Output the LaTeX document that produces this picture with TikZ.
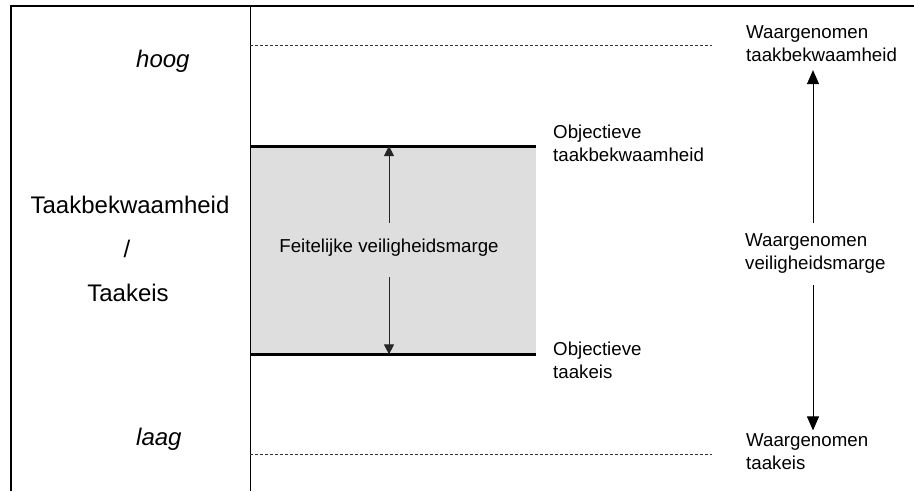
\documentclass[tikz,border=0pt]{standalone}
\usepackage{fontspec}
\setmainfont{Liberation Sans}
\usetikzlibrary{arrows.meta}
\begin{document}
\begin{tikzpicture}[x=1pt,y=-1pt,
  small/.style={font=\fontsize{18.7}{23}\selectfont, inner sep=0pt, align=left},
  big/.style={font=\fontsize{24}{28}\selectfont, inner sep=0pt},
  frame/.style={line width=2.4pt},
  axisline/.style={line width=1pt},
  level/.style={line width=0.8pt, dash pattern=on 3pt off 2pt, black!80},
  bound/.style={line width=3pt},
  arrsmall/.style={-{Triangle[length=10pt,width=10pt]}, line width=0.9pt, black!85},
  arrbig/.style={-{Triangle[length=14pt,width=12pt]}, line width=1pt},
]
\useasboundingbox (0,0) rectangle (914,491);

% outer frame (top and left edges) and the vertical scale axis
\draw[frame] (11,491) -- (11,6) -- (914,6);
\coordinate (axtop) at (250,6);
\coordinate (axbot) at (250,491);
\draw[axisline] (axtop) -- (axbot);

% high / low perceived levels
\coordinate (hiA) at (250,45.5);
\coordinate (hiB) at (712,45.5);
\coordinate (loA) at (250,454.5);
\coordinate (loB) at (712,454.5);
\draw[level] (hiA) -- (hiB);
\draw[level] (loA) -- (loB);

% actual safety margin band
\node[fill=black!13, draw=none, inner sep=0pt, minimum width=285pt, minimum height=208pt,
      anchor=north west] (band) at (250.5,146) {};
\draw[bound] (band.north west) -- (band.north east);
\draw[bound] (band.south west) -- (band.south east);

% axis labels
\node[big, anchor=base west] (hoog) at (136,67) {\textit{hoog}};
\node[big, anchor=base west] (laag) at (136,445) {\textit{laag}};
\node[big, anchor=base] (tb) at (130,213) {Taakbekwaamheid};
\node[big, anchor=base] (sl) at (127,257) {/};
\node[big, anchor=base] (te) at (128,301) {Taakeis};

% margin inside the band
\node[small] (fv) at (389,247.4) {\strut Feitelijke veiligheidsmarge};
\draw[arrsmall, shorten <=13pt] (fv.north) -- (fv.north |- band.north);
\draw[arrsmall, shorten <=18pt] (fv.south) -- (fv.south |- band.south);

% objective levels
\node[small, anchor=west] (ot) at (553,144.9) {\strut Objectieve\\\strut taakbekwaamheid};
\node[small, anchor=west] (oe) at (553,361.9) {\strut Objectieve\\\strut taakeis};

% perceived levels and margin
\coordinate (rx) at (813,0);
\node[small, anchor=west] (wt) at (746,44.9) {\strut Waargenomen\\\strut taakbekwaamheid};
\node[small, anchor=west] (vm) at (745,252.9) {\strut Waargenomen\\\strut veiligheidsmarge};
\node[small, anchor=west] (wte) at (746,453.6) {\strut Waargenomen\\\strut taakeis};
\draw[arrbig, shorten <=7pt, shorten >=2pt] (vm.north -| rx) -- (wt.south -| rx);
\draw[arrbig, shorten <=9pt] (vm.south -| rx) -- (wte.north -| rx);
\end{tikzpicture}
\end{document}
